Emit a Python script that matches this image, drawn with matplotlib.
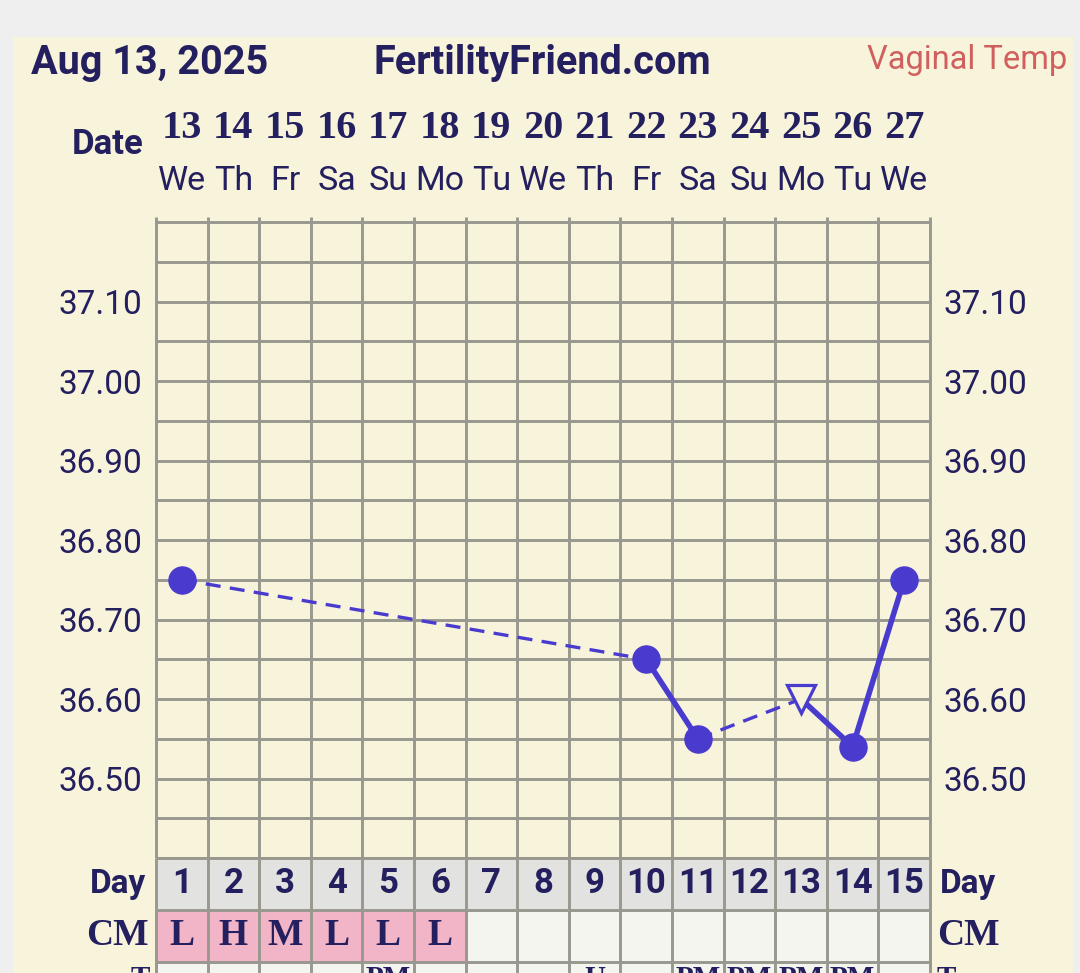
import matplotlib
matplotlib.use("Agg")
import matplotlib.pyplot as plt
from matplotlib.patches import Rectangle
from matplotlib.transforms import blended_transform_factory as btf

# ---------------- data ----------------
days = list(range(1, 16))
dates = [13, 14, 15, 16, 17, 18, 19, 20, 21, 22, 23, 24, 25, 26, 27]
weekdays = ["We", "Th", "Fr", "Sa", "Su", "Mo", "Tu", "We", "Th", "Fr",
            "Sa", "Su", "Mo", "Tu", "We"]
temp_days = [1, 10, 11, 13, 14, 15]
temp_vals = [36.75, 36.65, 36.55, 36.60, 36.54, 36.75]
temp_open = [False, False, False, True, False, False]
ytick_vals = [36.50, 36.60, 36.70, 36.80, 36.90, 37.00, 37.10]
y_min, y_max, y_step = 36.40, 37.20, 0.05
cm_vals = ["L", "H", "M", "L", "L", "L", "", "", "", "", "", "", "", "", ""]
bottom_row = ["", "", "", "", "PM", "", "", "", "U", "", "PM", "PM", "PM", "PM", ""]
title_left = "Aug 13, 2025"
title_mid = "FertilityFriend.com"
title_right = "Vaginal Temp"

# ---------------- style ----------------
W, H = 1080, 973
OUTER = "#efefef"
CREAM = "#f8f4dc"
NAVY = "#241f5e"
GRID = "#98988f"
PT = "#4a3bcf"
PINK = "#f2b4c7"
DAYBG = "#e2e2e0"
CELL = "#f5f5ef"
SANS = ["Roboto", "DejaVu Sans"]
SLAB = ["DejaVu Serif Condensed", "Liberation Serif"]


def fx(px):
    return px / W


def fy(py):
    return 1 - py / H


fig = plt.figure(figsize=(W / 100, H / 100), dpi=100, facecolor=OUTER)
fig.add_artist(Rectangle((fx(13), 0), fx(1073) - fx(13), fy(37), transform=fig.transFigure,
                         facecolor=CREAM, edgecolor="none", zorder=0))

L, R, T, B = 156, 930, 222, 858
ax = fig.add_axes([fx(L), fy(B), (R - L) / W, (B - T) / H])
ax.set_facecolor(CREAM)
ax.set_xlim(0.5, 15.5)
ax.set_ylim(y_min, y_max)
for s in ax.spines.values():
    s.set_visible(False)

bounds = [d - 0.5 for d in days] + [days[-1] + 0.5]
n_h = int(round((y_max - y_min) / y_step))
hvals = [y_min + i * y_step for i in range(n_h + 1)]
ax.vlines(bounds, y_min, y_max + 0.006, color=GRID, lw=2.1, clip_on=False, zorder=1)
ax.hlines(hvals, 0.5, 15.5, color=GRID, lw=2.1, clip_on=False, zorder=1)

# lines
for i in range(len(temp_days) - 1):
    d0, d1 = temp_days[i], temp_days[i + 1]
    v0, v1 = temp_vals[i], temp_vals[i + 1]
    if d1 - d0 > 1:
        ax.plot([d0, d1], [v0, v1], color=PT, lw=2.4, ls=(0, (4.5, 2.8)), zorder=3,
                dash_capstyle="butt")
    else:
        ax.plot([d0, d1], [v0, v1], color=PT, lw=4.0, zorder=3, solid_capstyle="round")
for d, v, o in zip(temp_days, temp_vals, temp_open):
    if o:
        ax.plot([d], [v], marker="v", ms=20, mfc=CREAM, mec=PT, mew=2.3, zorder=4)
    else:
        ax.plot([d], [v], marker="o", ms=19.5, mfc=PT, mec=PT, zorder=4)

ax.set_xticks([])
ax.set_yticks(ytick_vals)
ax.set_yticklabels([f"{v:.2f}" for v in ytick_vals])
ax.tick_params(axis="y", length=0, pad=10, labelsize=24, labelcolor=NAVY,
               labelleft=True, labelright=True)
for lab in ax.get_yticklabels():
    lab.set_family(SANS)

# header
tr = btf(ax.transData, fig.transFigure)
for d, dt, wd in zip(days, dates, weekdays):
    ax.text(d, fy(129), str(dt), transform=tr, ha="center", va="center",
            fontsize=29, fontweight="bold", color=NAVY, family=SLAB)
    ax.text(d, fy(181), wd, transform=tr, ha="center", va="center",
            fontsize=24.5, color=NAVY, family=SANS)
fig.text(fx(144), fy(144), "Date", ha="right", va="center", fontsize=25,
         fontweight="bold", color=NAVY, family=SANS)
fig.text(fx(31), fy(63), title_left, ha="left", va="center", fontsize=28.5,
         fontweight="bold", color=NAVY, family=SANS)
fig.text(fx(542), fy(63), title_mid, ha="center", va="center", fontsize=28.5,
         fontweight="bold", color=NAVY, family=SANS)
fig.text(fx(1067), fy(60), title_right, ha="right", va="center", fontsize=23.5,
         color="#d0605e", family=SANS)

# table rows
tax = fig.add_axes([fx(L), fy(1014), (R - L) / W, (1014 - B) / H])
tax.set_xlim(0.5, 15.5)
tax.set_ylim(3, 0)
tax.axis("off")
tax.bar(days, 1, bottom=0, width=1, color=DAYBG, lw=0, zorder=0)
tax.bar(days, 1, bottom=1, width=1, color=[PINK if c else CELL for c in cm_vals], lw=0, zorder=0)
tax.bar(days, 1, bottom=2, width=1, color=CELL, lw=0, zorder=0)
tax.vlines(bounds, 0, 3, color=GRID, lw=2.1, clip_on=False, zorder=1)
tax.hlines([0, 1, 2], 0.5, 15.5, color=GRID, lw=2.1, clip_on=False, zorder=1)
for d in days:
    tax.text(d, 0.5, str(d), ha="center", va="center", fontsize=25, fontweight="bold",
             color=NAVY, family=SANS)
for d, c in zip(days, cm_vals):
    if c:
        tax.text(d, 1.5, c, ha="center", va="center", fontsize=27, fontweight="bold",
                 color=NAVY, family=SLAB)
for d, c in zip(days, bottom_row):
    if c:
        tax.text(d, 2.06, c, ha="center", va="top", fontsize=21, fontweight="bold",
                 color=NAVY, family=SLAB, clip_on=False)

ttr = btf(fig.transFigure, tax.transData)
tax.text(fx(146), 0.5, "Day", transform=ttr, ha="right", va="center", fontsize=24,
         fontweight="bold", color=NAVY, family=SANS)
tax.text(fx(940), 0.5, "Day", transform=ttr, ha="left", va="center", fontsize=24,
         fontweight="bold", color=NAVY, family=SANS)
tax.text(fx(149), 1.5, "CM", transform=ttr, ha="right", va="center", fontsize=27,
         fontweight="bold", color=NAVY, family=SLAB)
tax.text(fx(937), 1.5, "CM", transform=ttr, ha="left", va="center", fontsize=27,
         fontweight="bold", color=NAVY, family=SLAB)
tax.text(fx(150), 2.06, "T", transform=ttr, ha="right", va="top", fontsize=21,
         fontweight="bold", color=NAVY, family=SLAB)
tax.text(fx(937), 2.06, "T", transform=ttr, ha="left", va="top", fontsize=21,
         fontweight="bold", color=NAVY, family=SLAB)

fig.savefig("out.png", dpi=100, facecolor=OUTER)
